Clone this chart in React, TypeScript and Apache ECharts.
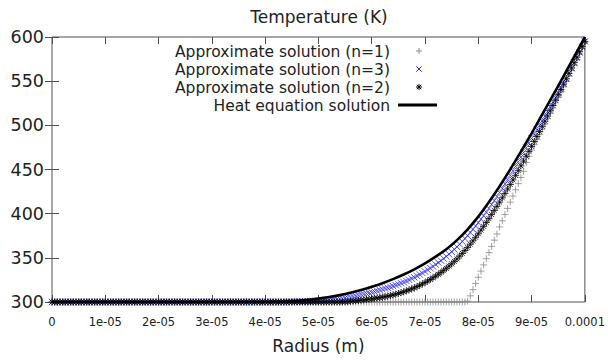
import React, { useEffect, useRef } from "react";
import * as echarts from "echarts";

// ---- Data ----
const seriesNames = [
  "Approximate solution (n=1)",
  "Approximate solution (n=3)",
  "Approximate solution (n=2)",
  "Heat equation solution",
];

const xTickLabels = ["0", "1e-05", "2e-05", "3e-05", "4e-05", "5e-05", "6e-05", "7e-05", "8e-05", "9e-05", "0.0001"];
const yTickLabels = ["300", "350", "400", "450", "500", "550", "600"];

// approximate solutions are sampled every 5e-7 m (201 samples, 0 .. 1e-4 m)
const markerRadiusStep = 5e-7;
// heat equation solution sampled every 2e-6 m (51 samples)
const heatRadiusStep = 2e-6;

const tempN1 = [
  300, 300, 300, 300, 300, 300, 300, 300, 300, 300,
  300, 300, 300, 300, 300, 300, 300, 300, 300, 300,
  300, 300, 300, 300, 300, 300, 300, 300, 300, 300,
  300, 300, 300, 300, 300, 300, 300, 300, 300, 300,
  300, 300, 300, 300, 300, 300, 300, 300, 300, 300,
  300, 300, 300, 300, 300, 300, 300, 300, 300, 300,
  300, 300, 300, 300, 300, 300, 300, 300, 300, 300,
  300, 300, 300, 300, 300, 300, 300, 300, 300, 300,
  300, 300, 300, 300, 300, 300, 300, 300, 300, 300,
  300, 300, 300, 300, 300, 300, 300, 300, 300, 300,
  300, 300, 300, 300, 300, 300, 300, 300, 300, 300,
  300, 300, 300, 300, 300, 300, 300, 300, 300, 300,
  300, 300, 300, 300, 300, 300, 300, 300, 300, 300,
  300, 300, 300, 300, 300, 300, 300, 300, 300, 300,
  300, 300, 300, 300, 300, 300, 300, 300, 300, 300,
  300, 300, 300, 300, 300, 300,
  301, 307, 314, 321, 328, 335, 342, 349, 356, 363,
  370, 377, 385, 392, 399, 406, 413, 420, 427, 434,
  441, 448, 458, 465, 472, 478, 484, 489.5, 495.5, 501.5,
  507.5, 513.5, 519.5, 525.5, 531.5, 537.5, 543.5, 549.7, 555.8, 562,
  568, 574.3, 580.5, 587, 594,
];

const tempN3 = [
  300, 300, 300, 300, 300, 300, 300, 300, 300, 300,
  300, 300, 300, 300, 300, 300, 300, 300, 300, 300,
  300, 300, 300, 300, 300, 300, 300, 300, 300, 300,
  300, 300, 300, 300, 300, 300, 300, 300, 300, 300,
  300, 300, 300, 300, 300, 300, 300, 300, 300, 300,
  300, 300, 300, 300, 300, 300, 300, 300, 300, 300,
  300, 300, 300, 300, 300, 300, 300, 300, 300, 300,
  300, 300, 300, 300, 300, 300, 300, 300, 300, 300,
  300, 300, 300, 300, 300, 300, 300, 300, 300,
  300.1, 300.1, 300.2, 300.3, 300.4, 300.5, 300.6, 300.8, 301.0, 301.1,
  301.3, 301.5, 301.7, 302.0, 302.2, 302.5, 302.8, 303.1, 303.4, 303.8,
  304.2, 304.6, 305.0, 305.5, 306.2, 306.9, 307.7, 308.5, 309.1, 309.7,
  310.3, 311.0, 311.9, 312.8, 313.6, 314.5, 315.4, 316.2, 317.1, 318.0,
  319.1, 320.2, 321.3, 322.5, 323.8, 325.2, 326.6, 328.0, 329.6, 331.2,
  332.8, 334.5, 336.4, 338.3, 340.3, 342.4, 344.6, 346.8, 349.2, 351.6,
  354.2, 356.8, 359.6, 362.4, 365.4, 368.5, 371.8, 375.1, 378.6, 382.2,
  386.0, 389.8, 393.7, 397.6, 401.7, 405.9, 410.3, 414.7, 419.3, 423.9,
  428.7, 433.5, 438.4, 443.4, 448.5, 453.6, 458.8, 464.1, 469.4, 474.8,
  480.0, 485.0, 490.0, 495.0, 500.0, 505.0, 510.2, 515.5, 520.7, 526.0,
  531.2, 536.5, 542.0, 547.5, 553.2, 559.0, 564.7, 570.5, 576.5, 582.5,
  588.7, 595.0,
];

const tempN2 = [
  300, 300, 300, 300, 300, 300, 300, 300, 300, 300,
  300, 300, 300, 300, 300, 300, 300, 300, 300, 300,
  300, 300, 300, 300, 300, 300, 300, 300, 300, 300,
  300, 300, 300, 300, 300, 300, 300, 300, 300, 300,
  300, 300, 300, 300, 300, 300, 300, 300, 300, 300,
  300, 300, 300, 300, 300, 300, 300, 300, 300, 300,
  300, 300, 300, 300, 300, 300, 300, 300, 300, 300,
  300, 300, 300, 300, 300, 300, 300, 300, 300, 300,
  300, 300, 300, 300, 300, 300, 300, 300, 300, 300,
  300, 300, 300, 300, 300, 300, 300, 300, 300, 300,
  300, 300, 300, 300, 300, 300, 300, 300, 300,
  300.1, 300.2, 300.4, 300.8, 301.1, 301.4, 301.7, 302.0, 302.4, 302.8,
  303.1, 303.5, 304.0, 304.5, 305.0, 305.5, 306.1, 306.7, 307.3, 308.0,
  308.8, 309.7, 310.6, 311.5, 312.6, 313.7, 314.8, 316.0, 317.4, 318.9,
  320.4, 322.0, 323.7, 325.5, 327.4, 329.3, 331.4, 333.5, 335.8, 338.1,
  340.6, 343.2, 346.0, 348.8, 351.9, 355.0, 358.4, 361.8, 365.5, 369.2,
  373.2, 377.2, 381.4, 385.6, 390.0, 394.4, 399.0, 403.6, 408.3, 413.1,
  418.0, 422.9, 427.9, 433.0, 438.2, 443.4, 448.7, 454.1, 459.5, 465.0,
  470.5, 476.1, 481.7, 487.4, 493.1, 498.9, 504.7, 510.6, 516.5, 522.5,
  528.5, 534.5, 540.5, 546.6, 552.7, 558.8, 564.9, 571.0, 577.1, 583.3,
  589.3, 595.0,
];

const tempHeat = [
  300, 300, 300, 300, 300, 300, 300, 300, 300, 300,
  300, 300, 300, 300, 300, 300, 300, 300, 300, 300,
  300,
  300.3, 300.7, 301.4, 302.4, 303.8, 305.6, 307.8, 310.5, 313.7, 317.3,
  321.3, 325.9, 331.1, 337.0, 343.7, 351.3, 359.7, 370.0, 382.3, 396.6,
  413.2, 431.1, 450.2, 470.2, 491.0, 512.3, 533.9, 555.7, 577.7, 600.0,
];

// ---- Styling ----
const FONT = "DejaVu Sans";
const TEXT_COLOR = "#222";
const FRAME_COLOR = "#505050";
const GRAY = "#8a8a8a";
const BLUE = "#2b2bff";
const BLACK = "#000";

const PLUS = "path://M0 5L10 5M5 0L5 10";
const CROSS = "path://M1 1L9 9M9 1L1 9";
const STAR = "path://M0 5L10 5M5 0L5 10M1.5 1.5L8.5 8.5M8.5 1.5L1.5 8.5";

function toPoints(values: number[], step: number) {
  return values.map((t, i) => [i * step, t]);
}

function legendGraphics() {
  const textX = 390;
  const iconX = 419;
  const rows = [51, 69, 87, 105];
  const els: any[] = [];
  seriesNames.forEach((name, i) => {
    els.push({
      type: "text",
      x: textX,
      y: rows[i] + 0.5,
      style: {
        text: name,
        fontSize: 15.5,
        lineHeight: 16,
        fontFamily: FONT,
        fill: TEXT_COLOR,
        align: "right",
        verticalAlign: "middle",
      },
    });
  });
  const ln = (x1: number, y1: number, x2: number, y2: number, c: string, w = 1) => ({
    type: "line",
    shape: { x1, y1, x2, y2 },
    style: { stroke: c, lineWidth: w },
  });
  const s = 3;
  // n=1 plus
  els.push(ln(iconX - s, rows[0], iconX + s, rows[0], GRAY));
  els.push(ln(iconX, rows[0] - s, iconX, rows[0] + s, GRAY));
  // n=3 cross
  els.push(ln(iconX - 2.7, rows[1] - 2.7, iconX + 2.7, rows[1] + 2.7, BLUE));
  els.push(ln(iconX + 2.7, rows[1] - 2.7, iconX - 2.7, rows[1] + 2.7, BLUE));
  // n=2 asterisk
  els.push(ln(iconX - s, rows[2], iconX + s, rows[2], BLACK));
  els.push(ln(iconX, rows[2] - s, iconX, rows[2] + s, BLACK));
  els.push(ln(iconX - 2.2, rows[2] - 2.2, iconX + 2.2, rows[2] + 2.2, BLACK));
  els.push(ln(iconX + 2.2, rows[2] - 2.2, iconX - 2.2, rows[2] + 2.2, BLACK));
  // heat line
  els.push(ln(398, rows[3], 437, rows[3], BLACK, 3));
  return els;
}

export default function App() {
  const ref = useRef<HTMLDivElement>(null);

  useEffect(() => {
    if (!ref.current) return;
    const chart = echarts.init(ref.current, null, { renderer: "svg" });

    const tickStyle = { inside: true, length: 7, lineStyle: { color: FRAME_COLOR, width: 1 } };
    const xCommon = {
      type: "value",
      min: 0,
      max: 1e-4,
      interval: 1e-5,
      axisLine: { show: false },
      axisTick: tickStyle,
      splitLine: { show: false },
    };
    const yCommon = {
      type: "value",
      min: 300,
      max: 600,
      interval: 50,
      axisLine: { show: false },
      axisTick: tickStyle,
      splitLine: { show: false },
    };

    const option: any = {
      animation: false,
      backgroundColor: "#ffffff",
      textStyle: { fontFamily: FONT },
      title: {
        text: "Temperature (K)",
        left: 319,
        top: 8,
        textAlign: "center",
        padding: 0,
        textStyle: { fontSize: 17, fontWeight: "normal", color: TEXT_COLOR, fontFamily: FONT },
      },
      grid: {
        left: 52,
        right: 21.5,
        top: 37,
        bottom: 59,
        show: true,
        borderColor: FRAME_COLOR,
        borderWidth: 1,
        backgroundColor: "transparent",
        containLabel: false,
      },
      xAxis: [
        {
          ...xCommon,
          position: "bottom",
          name: "Radius (m)",
          nameLocation: "middle",
          nameGap: 35,
          nameTextStyle: { fontSize: 17, color: TEXT_COLOR, fontFamily: FONT },
          axisLabel: {
            margin: 14,
            fontSize: 11.5,
            color: TEXT_COLOR,
            fontFamily: FONT,
            formatter: (v: number) => xTickLabels[Math.round(v / 1e-5)] ?? "",
          },
        },
        {
          ...xCommon,
          position: "top",
          axisLabel: { show: false },
        },
      ],
      yAxis: [
        {
          ...yCommon,
          position: "left",
          axisLabel: {
            margin: 8,
            fontSize: 17.5,
            color: TEXT_COLOR,
            fontFamily: FONT,
            formatter: (v: number) => yTickLabels[Math.round((v - 300) / 50)] ?? "",
          },
        },
        {
          ...yCommon,
          position: "right",
          axisLabel: { show: false },
        },
      ],
      series: [
        {
          type: "scatter",
          name: seriesNames[0],
          data: toPoints(tempN1, markerRadiusStep),
          symbol: PLUS,
          symbolSize: 7,
          itemStyle: { color: GRAY, borderColor: GRAY, borderWidth: 1 },
          emphasis: { disabled: true },
          z: 2,
        },
        {
          type: "scatter",
          name: seriesNames[1],
          data: toPoints(tempN3, markerRadiusStep),
          symbol: CROSS,
          symbolSize: 6.5,
          itemStyle: { color: BLUE, borderColor: BLUE, borderWidth: 1 },
          emphasis: { disabled: true },
          z: 3,
        },
        {
          type: "scatter",
          name: seriesNames[2],
          data: toPoints(tempN2, markerRadiusStep),
          symbol: STAR,
          symbolSize: 7,
          itemStyle: { color: BLACK, borderColor: BLACK, borderWidth: 1 },
          emphasis: { disabled: true },
          z: 4,
        },
        {
          type: "line",
          name: seriesNames[3],
          data: toPoints(tempHeat, heatRadiusStep),
          showSymbol: false,
          symbol: "none",
          smooth: 0.3,
          lineStyle: { color: BLACK, width: 2.6 },
          emphasis: { disabled: true },
          z: 5,
        },
      ],
      graphic: legendGraphics(),
    };

    chart.setOption(option);
    return () => chart.dispose();
  }, []);

  return (
    <div
      ref={ref}
      style={{ position: "fixed", left: 0, top: 0, width: 608, height: 361, background: "#fff" }}
    />
  );
}
